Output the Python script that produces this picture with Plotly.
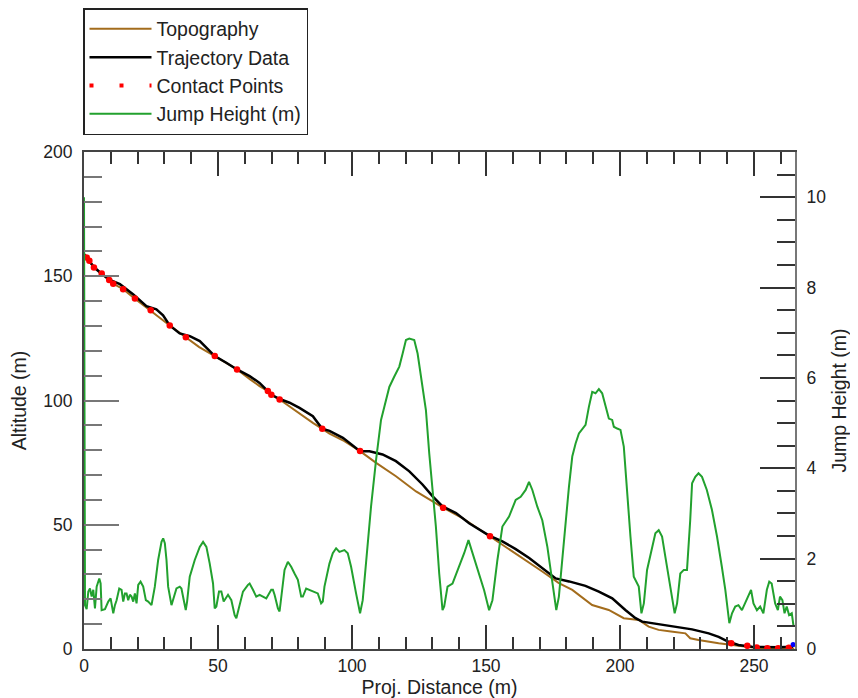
import plotly.graph_objects as go

# ---------------- data ----------------
topo_x = [0, 1, 2, 3.7, 6.6, 9.4, 10.9, 14.6, 19, 24.9, 28, 32, 38, 43, 48.8, 53, 57.1, 62, 65.5,
          68.6, 69.9, 73, 77, 81, 85.4, 88.9, 91.6, 96.6, 103, 109, 116.4, 123.9, 128.5, 133.8,
          141.2, 151.2, 161.1, 171, 177.2, 182.2, 189.6, 195.8, 201.4, 207, 210.7, 214.4, 219,
          224.4, 226.2, 229.3, 236.8, 241.8, 246.7, 251.7, 258, 265]
topo_alt = [158.5, 157.5, 156.2, 153.5, 151.1, 148.5, 147.0, 144.8, 141.0, 136.3, 133.5, 130.2,
            125.5, 121.5, 117.9, 115.0, 112.5, 108.5, 105.8, 103.8, 102.3, 100.4, 97.3, 94.3, 91.0,
            88.6, 86.7, 84.0, 79.6, 74.9, 69.5, 63.4, 60.3, 57.0, 52.7, 45.5, 38.6, 31.2, 26.5,
            23.8, 17.7, 15.7, 12.4, 11.7, 9.0, 7.7, 7.0, 6.3, 4.3, 3.6, 2.3, 1.6, 0.7, 0.3, 0.1, 0.2]

traj_x = [0, 1, 2, 3.7, 6, 9.4, 13.4, 18.4, 23.3, 27, 29.5, 32, 35.7, 39.5, 43.2, 46.9, 48.8, 53.1,
          57.1, 61.8, 65.5, 68.6, 70, 73, 76.7, 80.4, 85.4, 88.9, 91.6, 96.6, 103, 106.5, 111.4,
          116.4, 121.4, 126.3, 130.1, 133.8, 138.8, 143.7, 151.2, 156.1, 161.1, 166.1, 171, 176,
          181, 187.1, 192.1, 197.1, 202, 205.8, 208.3, 214.4, 220.7, 226.9, 233.1, 236.8, 240.5,
          244.2, 249.2, 254.2, 259, 264.5]
traj_alt = [158.9, 157.6, 156.3, 153.7, 151.5, 148.6, 146.8, 142.7, 138.0, 136.7, 134.3, 130.2,
            127.0, 125.9, 123.9, 119.9, 117.9, 115.2, 112.5, 109.8, 107.1, 103.8, 102.3, 100.6,
            99.1, 97.0, 93.7, 88.6, 87.8, 85.0, 79.6, 79.6, 78.3, 75.6, 71.5, 66.2, 61.4, 57.4,
            54.7, 50.6, 45.6, 43.3, 40.2, 36.6, 32.5, 28.4, 27.2, 25.4, 23.1, 20.4, 15.7, 12.4,
            11.0, 10.0, 8.7, 7.9, 6.3, 4.9, 2.9, 1.6, 0.9, 0.7, 0.7, 0.9]

contact_x = [1.0, 2.0, 3.7, 6.6, 9.4, 10.9, 14.6, 19.0, 24.9, 32.0, 38.0, 48.8, 57.1, 68.6, 69.9,
             73.0, 88.9, 103.0, 134.0, 151.5, 241.5, 247.5, 251.0, 255.0, 259.0, 263.0]
contact_alt = [157.5, 156.2, 153.5, 151.1, 148.5, 147.0, 144.8, 141.0, 136.3, 130.2, 125.5,
               117.9, 112.5, 103.8, 102.3, 100.4, 88.6, 79.7, 56.8, 45.4, 2.3, 1.3, 0.6, 0.3,
               0.3, 0.5]

end_x = [264.6]
end_alt = [1.8]

jump_x = [0.0, 0.37, 0.99, 1.61, 2.23, 2.85, 3.47, 4.09, 4.72, 5.34, 5.71, 6.20, 6.58, 7.82, 9.06,
          9.93, 10.92, 11.54, 12.16, 13.15, 14.02, 14.64, 15.26, 15.88, 16.50, 17.13, 17.75,
          18.37, 18.99, 19.61, 20.23, 21.10, 22.09, 23.08, 23.95, 25.19, 26.43, 27.67, 28.92,
          29.54, 30.16, 30.78, 31.40, 32.64, 33.26, 34.50, 35.74, 36.36, 37.23, 37.97, 38.47,
          39.46, 41.33, 43.19, 44.43, 45.67, 46.91, 48.15, 48.77, 49.39, 50.38, 51.25, 52.12,
          52.87, 53.74, 54.98, 56.22, 56.84, 57.46, 59.32, 61.18, 61.80, 63.04, 64.28, 65.52,
          66.77, 68.01, 69.87, 70.49, 71.11, 72.35, 72.97, 73.59, 74.83, 76.07, 77.31, 78.56,
          79.80, 81.04, 81.66, 82.90, 84.14, 85.38, 87.24, 88.48, 89.10, 89.72, 91.58,
          92.83, 94.07, 95.31, 97.17, 98.42, 99.66, 101.52, 103.01, 104.0, 105.24, 107.1, 108.97,
          110.83, 112.07, 113.93, 115.79, 117.65, 118.9, 120.13, 121.37, 123.23, 124.48, 126.34,
          127.58, 128.82, 130.06, 131.3, 132.54, 133.78, 134.4, 135.65, 137.5, 140.0, 141.85,
          143.46, 144.95, 146.8, 149.3, 151.16, 152.4, 154.26, 156.12, 158.6, 161.08, 162.95,
          164.8, 166.05, 167.3, 169.15, 171.0, 172.9, 174.74, 176.23,
          177.2, 178.46, 179.7, 180.95, 182.19, 183.43, 184.67, 185.91, 187.15, 188.39, 189.63,
          190.87, 192.11, 193.35, 194.59, 195.84, 197.08, 197.7, 198.94, 200.18, 201.42, 202.66,
          203.9, 205.14, 207.0, 208.0, 208.9, 210.1, 211.97, 213.2, 214.45, 215.7, 216.93, 218.8,
          220.4, 221.3, 222.5, 223.8, 225.0, 226.2, 226.9, 228.1, 229.3, 230.6, 232.4, 234.3,
          236.2, 238.0, 239.3, 240.8, 241.8, 243.0, 244.2, 245.5, 246.7, 247.9, 248.9, 249.8,
          251.1, 252.3, 253.5, 254.8, 255.7, 256.6, 257.9, 258.9, 259.7, 260.6, 261.4, 262.2,
          263.1, 264.1, 264.7]
jump_h = [10.0, 0.97, 0.88, 1.27, 1.34, 1.16, 1.31, 0.90, 1.38, 1.53, 1.56, 1.45, 0.86, 0.88, 1.05,
          1.12, 0.79, 0.97, 1.08, 1.34, 1.31, 1.05, 1.23, 1.23, 1.08, 1.20, 1.16, 1.05, 1.23,
          1.01, 1.42, 1.49, 1.38, 1.08, 1.05, 0.97, 1.38, 1.97, 2.37, 2.45, 2.34, 1.97, 1.38,
          0.97, 1.08, 1.34, 1.38, 1.34, 1.08, 0.86, 1.05, 1.60, 1.97, 2.26, 2.37, 2.26, 1.89,
          1.45, 0.90, 0.94, 1.27, 1.27, 1.05, 1.12, 1.20, 1.08, 0.75, 0.68, 0.83, 1.27, 1.42,
          1.45, 1.31, 1.16, 1.20, 1.16, 1.12, 1.31, 1.31, 1.20, 0.90, 0.83, 1.16, 1.75, 1.93,
          1.82, 1.67, 1.53, 1.16, 1.16, 1.34, 1.31, 1.27, 1.23, 1.01, 1.05, 1.38, 1.89,
          2.12, 2.23, 2.15, 2.19, 2.12, 1.82, 1.23, 0.79, 1.08, 1.97, 3.15, 4.18, 5.07, 5.36, 5.80,
          6.03, 6.25, 6.54, 6.84, 6.87, 6.84, 6.54, 5.80, 5.29, 4.33, 3.59, 2.71, 1.67, 0.86,
          0.94, 1.38, 1.45, 1.82, 2.12, 2.41, 2.12, 1.75, 1.30, 0.86, 1.08, 1.97, 2.71, 2.93,
          3.30, 3.37, 3.52, 3.70, 3.52, 3.15, 2.85, 2.26, 1.53, 0.86,
          1.16, 2.04, 2.78, 3.59, 4.26, 4.55, 4.77, 4.88, 4.96, 5.36, 5.69, 5.66, 5.75, 5.66,
          5.36, 5.10, 5.07, 4.92, 4.88, 4.85, 4.48, 3.37, 2.49, 1.60, 1.38, 0.79, 1.01, 1.75,
          2.26, 2.56, 2.63, 2.49, 2.04, 1.38, 0.79, 1.01, 1.67, 1.75, 1.75, 2.85, 3.67, 3.81,
          3.89, 3.81, 3.52, 3.08, 2.49, 1.82, 1.31, 0.57, 0.79, 0.94, 0.97, 0.86, 1.01, 1.16,
          1.31, 1.01, 0.86, 0.94, 0.79, 1.31, 1.49, 1.45, 1.01, 0.86, 1.16, 1.08, 0.79, 0.94,
          0.75, 0.79, 0.53]

x_range = [0, 265.3]
alt_range = [0, 200]
jump_range = [0, 11]

# ---------------- style ----------------
FONT = "Liberation Sans, Arial, Helvetica, sans-serif"
BROWN = "#A36C1C"
GREEN = "#22A12E"

fig = go.Figure()
fig.add_trace(go.Scatter(x=topo_x, y=topo_alt, mode="lines", name="Topography",
                         line=dict(color=BROWN, width=2)))
fig.add_trace(go.Scatter(x=traj_x, y=traj_alt, mode="lines", name="Trajectory Data",
                         line=dict(color="black", width=2.5)))
fig.add_trace(go.Scatter(x=[None], y=[None], mode="lines", name="Contact Points",
                         line=dict(color="red", width=4, dash="4px,26px")))
fig.add_trace(go.Scatter(x=contact_x, y=contact_alt, mode="markers", showlegend=False,
                         marker=dict(color="red", size=6.5)))
fig.add_trace(go.Scatter(x=jump_x, y=jump_h, mode="lines", name="Jump Height (m)",
                         line=dict(color=GREEN, width=2), yaxis="y2"))
fig.add_trace(go.Scatter(x=end_x, y=end_alt, mode="markers", showlegend=False,
                         marker=dict(color="blue", size=5)))

tickfont = dict(family=FONT, size=17.5, color="#222")
titlefont = dict(family=FONT, size=19.5, color="#222")

# the page body has an 8px margin, so the figure is 850x690 and margins are set so
# the plotting area sits at x 84..795, y 152..649 of the browser window
fig.update_layout(
    width=850, height=690,
    margin=dict(l=76, r=63, t=144, b=49, autoexpand=False),
    paper_bgcolor="white", plot_bgcolor="white",
    font=dict(family=FONT, size=17.5, color="#222"),
    xaxis=dict(range=x_range, showgrid=False, zeroline=False, showline=True,
               linecolor="#444", linewidth=2, mirror="ticks",
               ticks="inside", ticklen=24, tickwidth=1.5, tickcolor="#333",
               tick0=0, dtick=50, tickfont=tickfont, ticklabelstandoff=0,
               minor=dict(dtick=10, ticks="inside", ticklen=12, tickwidth=1.5, tickcolor="#333"),
               title=dict(text="Proj. Distance (m)", font=titlefont, standoff=9)),
    yaxis=dict(range=alt_range, showgrid=False, zeroline=False, showline=True,
               linecolor="#444", linewidth=2,
               ticks="inside", ticklen=35, tickwidth=2, tickcolor="#777",
               tick0=0, dtick=50, tickfont=tickfont, ticklabelstandoff=6,
               minor=dict(dtick=10, ticks="inside", ticklen=18, tickwidth=2, tickcolor="#777"),
               title=dict(text="Altitude (m)", font=titlefont, standoff=12)),
    yaxis2=dict(range=jump_range, overlaying="y", side="right", showgrid=False, zeroline=False,
                showline=True, linecolor="#777", linewidth=2,
                ticks="inside", ticklen=35, tickwidth=1.5, tickcolor="#333",
                tick0=0, dtick=2, tickfont=tickfont, ticklabelstandoff=6,
                minor=dict(dtick=0.5, ticks="inside", ticklen=18, tickwidth=1.5, tickcolor="#333"),
                title=dict(text="Jump Height (m)", font=titlefont, standoff=7)),
    legend=dict(x=-0.0014, xanchor="left", y=1.2895, yanchor="top",
                bgcolor="white", bordercolor="#222", borderwidth=1.5,
                font=dict(family=FONT, size=19.5, color="#222"),
                itemwidth=62, tracegroupgap=0),
    showlegend=True,
)

fig.write_html("out.html")
